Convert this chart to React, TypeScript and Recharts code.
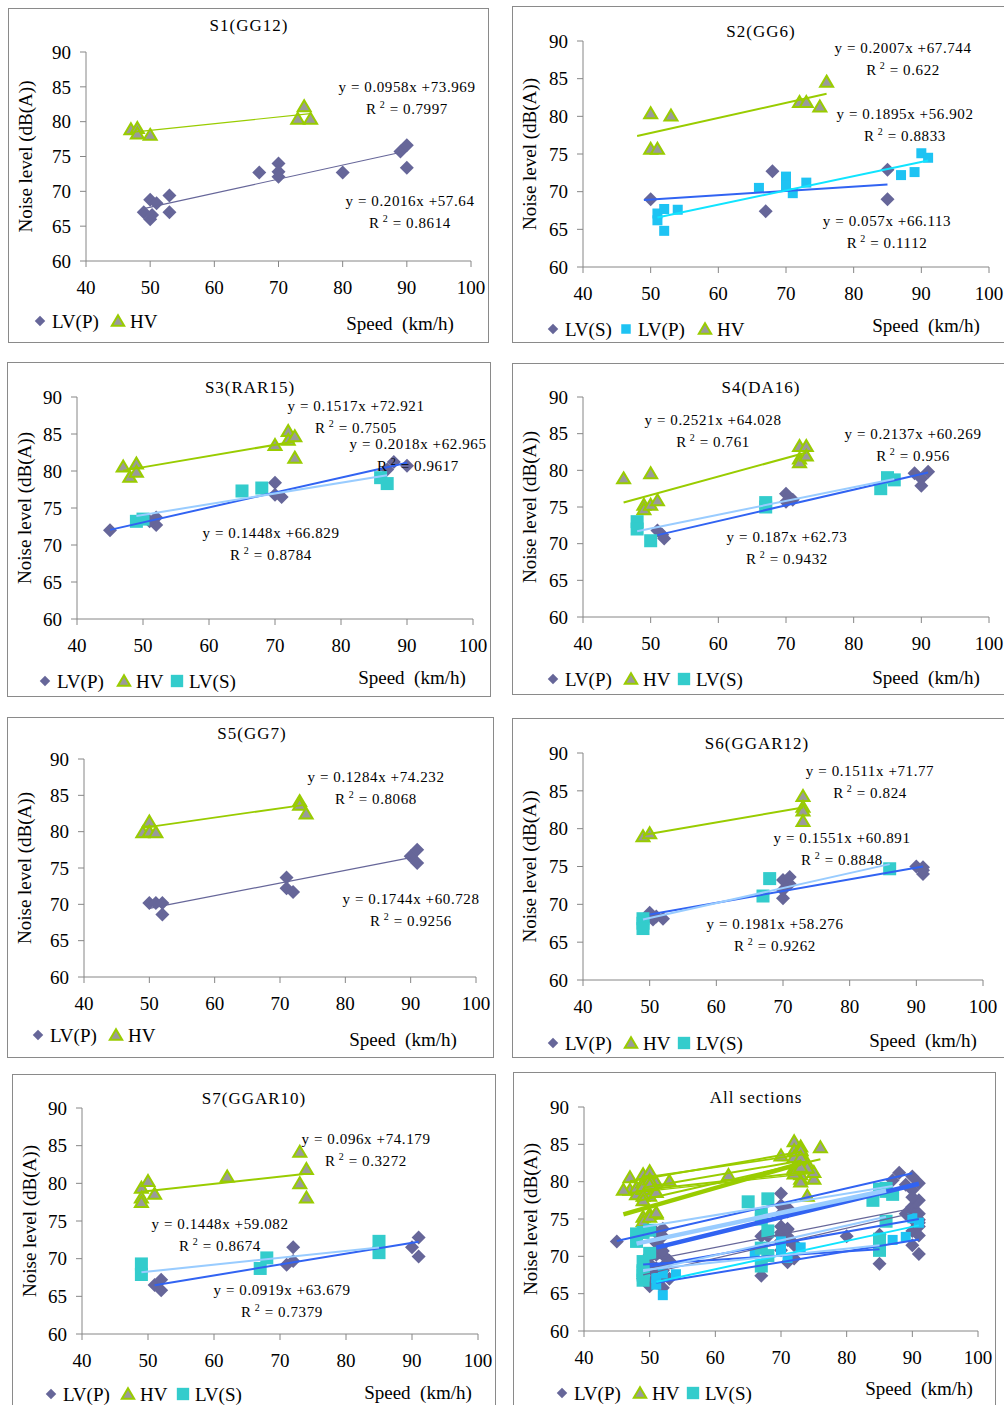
import { ScatterChart, Scatter, XAxis, YAxis } from 'recharts';

type Pt = [number, number];
// slope, intercept, first x, last x of the trendline
type Fit = [number, number, number, number];
type Kind = 'diamond' | 'triangle' | 'square' | 'sky';

const SERIF = '"Liberation Serif", "Times New Roman", serif';

const xTicks = [40, 50, 60, 70, 80, 90, 100];
const yTicks = [60, 65, 70, 75, 80, 85, 90];

// speed (km/h), noise level dB(A)
const s1LvP: Pt[] = [[49, 67], [50, 68.8], [51, 68.3], [50, 66], [50.3, 66.6], [53, 69.4], [53, 67], [67, 72.7], [70, 74], [70, 72.8], [70, 72.1], [80, 72.7], [89, 75.7], [90, 76.6], [90, 73.4]];
const s1Hv: Pt[] = [[47, 78.9], [48, 79.1], [48, 78.3], [50, 78.1], [73, 80.4], [74, 82.2], [75, 80.4]];
const s1LvPFit: Fit = [0.2016, 57.64, 49, 90];
const s1HvFit: Fit = [0.0958, 73.969, 47, 75];

const s2LvS: Pt[] = [[50, 69], [67, 67.4], [68, 72.7], [85, 72.9], [85, 69]];
const s2LvP: Pt[] = [[51, 67.1], [51, 66.2], [52, 67.7], [52, 64.8], [54, 67.6], [66, 70.5], [70, 72], [70, 70.8], [71, 69.8], [73, 71.2], [87, 72.2], [89, 72.6], [90, 75.1], [91, 74.5]];
const s2Hv: Pt[] = [[50, 80.4], [50, 75.7], [51, 75.7], [53, 80.1], [72, 81.9], [73, 81.9], [75, 81.3], [76, 84.6]];
const s2LvSFit: Fit = [0.057, 66.113, 49, 85];
const s2LvPFit: Fit = [0.1895, 56.902, 51, 91];
const s2HvFit: Fit = [0.2007, 67.744, 48, 76];

const s3LvP: Pt[] = [[45, 72], [52, 73.7], [52, 72.7], [51, 73.2], [70, 78.4], [70, 76.8], [71, 76.5], [88, 81.2], [87, 80.2], [90, 80.7]];
const s3Hv: Pt[] = [[47, 80.6], [48, 79.2], [49, 81], [49, 79.9], [70, 83.5], [72, 85.4], [72, 84.2], [73, 84.7], [73, 81.8]];
const s3LvS: Pt[] = [[49, 73.2], [50, 73.5], [65, 77.3], [68, 77.7], [86, 79.1], [87, 78.3]];
const s3LvPFit: Fit = [0.2018, 62.965, 45, 90];
const s3HvFit: Fit = [0.1517, 72.921, 47, 73];
const s3LvSFit: Fit = [0.1448, 66.829, 49, 87];

const s4LvP: Pt[] = [[51, 71.8], [51.7, 71.2], [52, 70.7], [70, 76.8], [70, 75.7], [71, 76], [89, 79.6], [90, 78.9], [90, 77.9], [91, 79.8]];
const s4Hv: Pt[] = [[46, 78.9], [49, 75.3], [49, 74.7], [50, 75.3], [50, 79.6], [51, 75.9], [72, 83.3], [72, 81.6], [72, 81.1], [73, 83.3], [73, 82]];
const s4LvS: Pt[] = [[48, 73], [48, 72], [50, 70.4], [67, 75], [67, 75.6], [84, 77.5], [85, 79], [86, 78.7]];
const s4LvPFit: Fit = [0.2137, 60.269, 51, 91];
const s4HvFit: Fit = [0.2521, 64.028, 46, 73];
const s4LvSFit: Fit = [0.187, 62.73, 48, 86];

const s5LvP: Pt[] = [[50, 70.2], [51, 70.2], [52, 70.2], [52, 68.6], [71, 73.7], [71, 72.2], [72, 71.7], [90, 76.6], [91, 77.5], [91, 75.7]];
const s5Hv: Pt[] = [[49, 79.9], [50, 81.4], [50, 80], [51, 79.9], [73, 84.2], [73, 83.7], [74, 82.5]];
const s5LvPFit: Fit = [0.1744, 60.728, 50, 91];
const s5HvFit: Fit = [0.1284, 74.232, 49, 74];

const s6LvP: Pt[] = [[50, 68.9], [50.5, 68], [51, 68.4], [52, 68.1], [70, 73.2], [71, 72.7], [71, 73.6], [70, 70.8], [70, 71.9], [90, 75], [91, 74.9], [91, 74], [91, 74.5]];
const s6Hv: Pt[] = [[49, 79], [50, 79.4], [73, 84.3], [73, 82.9], [73, 82.4], [73, 81]];
const s6LvS: Pt[] = [[49, 68.1], [49, 67.5], [49, 66.8], [67, 71.1], [68, 73.4], [86, 74.7]];
const s6LvPFit: Fit = [0.1551, 60.891, 50, 91];
const s6HvFit: Fit = [0.1511, 71.77, 49, 73];
const s6LvSFit: Fit = [0.1981, 58.276, 49, 86];

const s7LvP: Pt[] = [[51, 66.5], [52, 67.2], [52, 65.8], [71, 69.2], [72, 71.5], [72, 69.7], [90, 71.5], [91, 72.8], [91, 70.3]];
const s7Hv: Pt[] = [[49, 79.4], [49, 78.1], [49, 77.5], [50, 80.3], [51, 78.6], [62, 80.9], [73, 84.2], [73, 80], [74, 81.9], [74, 78.1]];
const s7LvS: Pt[] = [[49, 69.3], [49, 67.9], [67, 68.7], [68, 70.1], [85, 72.3], [85, 70.8]];
const s7LvPFit: Fit = [0.1448, 59.082, 51, 91];
const s7HvFit: Fit = [0.096, 74.179, 49, 74];
const s7LvSFit: Fit = [0.0919, 63.679, 49, 85];

const PURPLE = '#666699';
const GREEN = '#99cc00';
const TEAL = '#33cccc';
const SKY = '#1ec3f3';
const BLUE = '#3163f2';
const LIGHT = '#99ccff';
const CYAN = '#10e4ff';

type Series = { name: string; data: Pt[]; kind: Kind; fit: Fit; line: string; lw: number };
type Eq = { eq: string; r2: string; x: number; y: number };
type PanelCfg = {
  title: string;
  box: [number, number, number, number];
  plot: [number, number, number, number];
  tpos: [number, number];
  series: Series[];
  eqs: Eq[];
  legY: number;
  leg: [Kind, string, number][];
  speed: [number, number];
};

const sec1: Series[] = [
  { name: 'LV(P)', data: s1LvP, kind: 'diamond', fit: s1LvPFit, line: PURPLE, lw: 1.2 },
  { name: 'HV', data: s1Hv, kind: 'triangle', fit: s1HvFit, line: GREEN, lw: 1.2 },
];
const sec2: Series[] = [
  { name: 'LV(S)', data: s2LvS, kind: 'diamond', fit: s2LvSFit, line: BLUE, lw: 2 },
  { name: 'LV(P)', data: s2LvP, kind: 'sky', fit: s2LvPFit, line: CYAN, lw: 2 },
  { name: 'HV', data: s2Hv, kind: 'triangle', fit: s2HvFit, line: GREEN, lw: 2 },
];
const sec3: Series[] = [
  { name: 'LV(P)', data: s3LvP, kind: 'diamond', fit: s3LvPFit, line: BLUE, lw: 2 },
  { name: 'HV', data: s3Hv, kind: 'triangle', fit: s3HvFit, line: GREEN, lw: 2 },
  { name: 'LV(S)', data: s3LvS, kind: 'square', fit: s3LvSFit, line: LIGHT, lw: 2 },
];
const sec4: Series[] = [
  { name: 'LV(P)', data: s4LvP, kind: 'diamond', fit: s4LvPFit, line: BLUE, lw: 2 },
  { name: 'HV', data: s4Hv, kind: 'triangle', fit: s4HvFit, line: GREEN, lw: 2 },
  { name: 'LV(S)', data: s4LvS, kind: 'square', fit: s4LvSFit, line: LIGHT, lw: 2 },
];
const sec5: Series[] = [
  { name: 'LV(P)', data: s5LvP, kind: 'diamond', fit: s5LvPFit, line: PURPLE, lw: 1.2 },
  { name: 'HV', data: s5Hv, kind: 'triangle', fit: s5HvFit, line: GREEN, lw: 1.8 },
];
const sec6: Series[] = [
  { name: 'LV(P)', data: s6LvP, kind: 'diamond', fit: s6LvPFit, line: BLUE, lw: 2 },
  { name: 'HV', data: s6Hv, kind: 'triangle', fit: s6HvFit, line: GREEN, lw: 2 },
  { name: 'LV(S)', data: s6LvS, kind: 'square', fit: s6LvSFit, line: LIGHT, lw: 2 },
];
const sec7: Series[] = [
  { name: 'LV(P)', data: s7LvP, kind: 'diamond', fit: s7LvPFit, line: BLUE, lw: 2 },
  { name: 'HV', data: s7Hv, kind: 'triangle', fit: s7HvFit, line: GREEN, lw: 2 },
  { name: 'LV(S)', data: s7LvS, kind: 'square', fit: s7LvSFit, line: LIGHT, lw: 2 },
];

// all sections: S4 trendlines are drawn heavier in the original
const allSec: Series[] = [...sec1, ...sec2, ...sec3, ...sec5, ...sec6, ...sec7, ...sec4.map((s) => ({ ...s, lw: 4.5 }))];
const kindOrder: Kind[] = ['diamond', 'sky', 'triangle', 'square'];
const allSorted = kindOrder.flatMap((k) => allSec.filter((s) => s.kind === k));

const panels: PanelCfg[] = [
  {
    title: 'S1(GG12)', box: [8, 8, 481, 335], plot: [86, 471, 52, 261], tpos: [249, 25], series: sec1,
    eqs: [
      { eq: 'y = 0.0958x +73.969', r2: '0.7997', x: 407, y: 87 },
      { eq: 'y = 0.2016x +57.64', r2: '0.8614', x: 410, y: 201 },
    ],
    legY: 321, leg: [['diamond', 'LV(P)', 40], ['triangle', 'HV', 118]], speed: [400, 323],
  },
  {
    title: 'S2(GG6)', box: [512, 6, 497, 337], plot: [583, 989, 41, 267], tpos: [761, 31], series: sec2,
    eqs: [
      { eq: 'y = 0.2007x +67.744', r2: '0.622', x: 903, y: 48 },
      { eq: 'y = 0.1895x +56.902', r2: '0.8833', x: 905, y: 114 },
      { eq: 'y = 0.057x +66.113', r2: '0.1112', x: 887, y: 221 },
    ],
    legY: 329, leg: [['diamond', 'LV(S)', 553], ['sky', 'LV(P)', 626], ['triangle', 'HV', 705]], speed: [926, 325],
  },
  {
    title: 'S3(RAR15)', box: [7, 362, 484, 335], plot: [77, 473, 397, 619], tpos: [250, 387], series: sec3,
    eqs: [
      { eq: 'y = 0.1517x +72.921', r2: '0.7505', x: 356, y: 406 },
      { eq: 'y = 0.2018x +62.965', r2: '0.9617', x: 418, y: 444 },
      { eq: 'y = 0.1448x +66.829', r2: '0.8784', x: 271, y: 533 },
    ],
    legY: 681, leg: [['diamond', 'LV(P)', 45], ['triangle', 'HV', 124], ['square', 'LV(S)', 177]], speed: [412, 677],
  },
  {
    title: 'S4(DA16)', box: [512, 363, 497, 332], plot: [583, 989, 397, 617], tpos: [761, 387], series: sec4,
    eqs: [
      { eq: 'y = 0.2521x +64.028', r2: '0.761', x: 713, y: 420 },
      { eq: 'y = 0.2137x +60.269', r2: '0.956', x: 913, y: 434 },
      { eq: 'y = 0.187x +62.73', r2: '0.9432', x: 787, y: 537 },
    ],
    legY: 679, leg: [['diamond', 'LV(P)', 553], ['triangle', 'HV', 631], ['square', 'LV(S)', 684]], speed: [926, 677],
  },
  {
    title: 'S5(GG7)', box: [7, 717, 487, 341], plot: [84, 476, 759, 977], tpos: [252, 733], series: sec5,
    eqs: [
      { eq: 'y = 0.1284x +74.232', r2: '0.8068', x: 376, y: 777 },
      { eq: 'y = 0.1744x +60.728', r2: '0.9256', x: 411, y: 899 },
    ],
    legY: 1035, leg: [['diamond', 'LV(P)', 38], ['triangle', 'HV', 116]], speed: [403, 1039],
  },
  {
    title: 'S6(GGAR12)', box: [512, 718, 497, 340], plot: [583, 983, 753, 980], tpos: [757, 743], series: sec6,
    eqs: [
      { eq: 'y = 0.1511x +71.77', r2: '0.824', x: 870, y: 771 },
      { eq: 'y = 0.1551x +60.891', r2: '0.8848', x: 842, y: 838 },
      { eq: 'y = 0.1981x +58.276', r2: '0.9262', x: 775, y: 924 },
    ],
    legY: 1043, leg: [['diamond', 'LV(P)', 553], ['triangle', 'HV', 631], ['square', 'LV(S)', 684]], speed: [923, 1040],
  },
  {
    title: 'S7(GGAR10)', box: [12, 1074, 484, 345], plot: [82, 478, 1108, 1334], tpos: [254, 1098], series: sec7,
    eqs: [
      { eq: 'y = 0.096x +74.179', r2: '0.3272', x: 366, y: 1139 },
      { eq: 'y = 0.1448x +59.082', r2: '0.8674', x: 220, y: 1224 },
      { eq: 'y = 0.0919x +63.679', r2: '0.7379', x: 282, y: 1290 },
    ],
    legY: 1394, leg: [['diamond', 'LV(P)', 51], ['triangle', 'HV', 128], ['square', 'LV(S)', 183]], speed: [418, 1392],
  },
  {
    title: 'All sections', box: [513, 1072, 483, 345], plot: [584, 978, 1107, 1331], tpos: [756, 1097], series: allSorted,
    eqs: [],
    legY: 1393, leg: [['diamond', 'LV(P)', 562], ['triangle', 'HV', 640], ['square', 'LV(S)', 693]], speed: [919, 1388],
  },
];

const toObj = (d: Pt[]) => d.map(([x, y]) => ({ x, y }));
const fitLine = ([m, b, a, c]: Fit) => [
  { x: a, y: m * a + b },
  { x: c, y: m * c + b },
];

function Marker({ kind, cx, cy, s = 1 }: { kind: Kind; cx: number; cy: number; s?: number }) {
  if (kind === 'diamond') {
    const r = 7 * s;
    return <polygon points={`${cx},${cy - r} ${cx + r},${cy} ${cx},${cy + r} ${cx - r},${cy}`} fill={PURPLE} />;
  }
  if (kind === 'triangle') {
    const w = 6.5 * s;
    const h = 11 * s;
    return (
      <polygon
        points={`${cx},${cy - h * 0.55} ${cx + w},${cy + h * 0.45} ${cx - w},${cy + h * 0.45}`}
        fill="#9a9a9a"
        stroke={GREEN}
        strokeWidth={2}
      />
    );
  }
  const side = (kind === 'sky' ? 10 : 13) * s;
  return <rect x={cx - side / 2} y={cy - side / 2} width={side} height={side} fill={kind === 'sky' ? SKY : TEAL} />;
}

function Txt({ x, y, size = 19, children, spacing = 0 }: { x: number; y: number; size?: number; children: any; spacing?: number }) {
  return (
    <div
      style={{
        position: 'absolute', left: x, top: y, transform: 'translate(-50%, -50%)', whiteSpace: 'pre',
        fontFamily: SERIF, fontSize: size, lineHeight: 1, color: '#000', letterSpacing: spacing,
      }}
    >
      {children}
    </div>
  );
}

const axisColor = '#868686';

function Panel({ p }: { p: PanelCfg }) {
  const [bx, by, bw, bh] = p.box;
  const [pl, pr, pt, pb] = p.plot;
  const xH = 40;
  const yW = pl - bx - 4;
  const margin = { top: pt - by, right: bx + bw - pr, bottom: by + bh - pb - xH, left: 4 };
  const tickStyle = { fill: '#000', fontSize: 19, fontFamily: SERIF };
  return (
    <>
      <div style={{ position: 'absolute', left: bx, top: by, width: bw, height: bh }}>
        <ScatterChart width={bw} height={bh} margin={margin}>
          <XAxis
            type="number" dataKey="x" domain={[40, 100]} ticks={xTicks} interval={0} height={xH}
            tick={tickStyle} tickSize={6} tickMargin={14}
            axisLine={{ stroke: axisColor }} tickLine={{ stroke: axisColor }}
          />
          <YAxis
            type="number" dataKey="y" domain={[60, 90]} ticks={yTicks} interval={0} width={yW}
            tick={tickStyle} tickSize={6} tickMargin={9}
            axisLine={{ stroke: axisColor }} tickLine={{ stroke: axisColor }}
            label={{
              value: 'Noise level (dB(A))', angle: -90, position: 'insideLeft', offset: 13,
              style: { textAnchor: 'middle', fontSize: 19, fontFamily: SERIF, fill: '#000' },
            }}
          />
          {p.series.map((s, i) => (
            <Scatter
              key={'pts' + i}
              name={s.name}
              data={toObj(s.data)}
              isAnimationActive={false}
              shape={(q: any) => <Marker kind={s.kind} cx={q.cx} cy={q.cy} />}
            />
          ))}
          {p.series.map((s, i) => (
            <Scatter
              key={'fit' + i}
              data={fitLine(s.fit)}
              isAnimationActive={false}
              line={{ stroke: s.line, strokeWidth: s.lw }}
              shape={() => <g />}
            />
          ))}
        </ScatterChart>
        <div style={{ position: 'absolute', inset: 0, border: '1px solid #8a8a8a', pointerEvents: 'none' }} />
      </div>
      <Txt x={p.tpos[0]} y={p.tpos[1]} size={17} spacing={1}>{p.title}</Txt>
      {p.eqs.map((e, i) => (
        <div key={'eq' + i}>
          <Txt x={e.x} y={e.y} size={15} spacing={0.6}>{e.eq}</Txt>
          <Txt x={e.x} y={e.y + 20.5} size={15} spacing={0.6}>
            R<span style={{ fontSize: 10, verticalAlign: 6, marginLeft: 3 }}>2</span> = {e.r2}
          </Txt>
        </div>
      ))}
      {p.leg.map(([k, name, ix], i) => (
        <div key={'lg' + i}>
          <svg style={{ position: 'absolute', left: ix - 8, top: p.legY - 8 }} width={16} height={16}>
            <Marker kind={k} cx={8} cy={8} s={k === 'diamond' ? 0.75 : 0.95} />
          </svg>
          <div
            style={{
              position: 'absolute', left: ix + 12, top: p.legY, transform: 'translateY(-50%)',
              fontFamily: SERIF, fontSize: 19, lineHeight: 1, whiteSpace: 'pre',
            }}
          >
            {name}
          </div>
        </div>
      ))}
      <Txt x={p.speed[0]} y={p.speed[1]}>{'Speed  (km/h)'}</Txt>
    </>
  );
}

export default function App() {
  return (
    <div style={{ position: 'absolute', left: 0, top: 0, width: 1004, height: 1405, overflow: 'hidden', background: '#fff' }}>
      {panels.map((p, i) => (
        <Panel key={i} p={p} />
      ))}
    </div>
  );
}
